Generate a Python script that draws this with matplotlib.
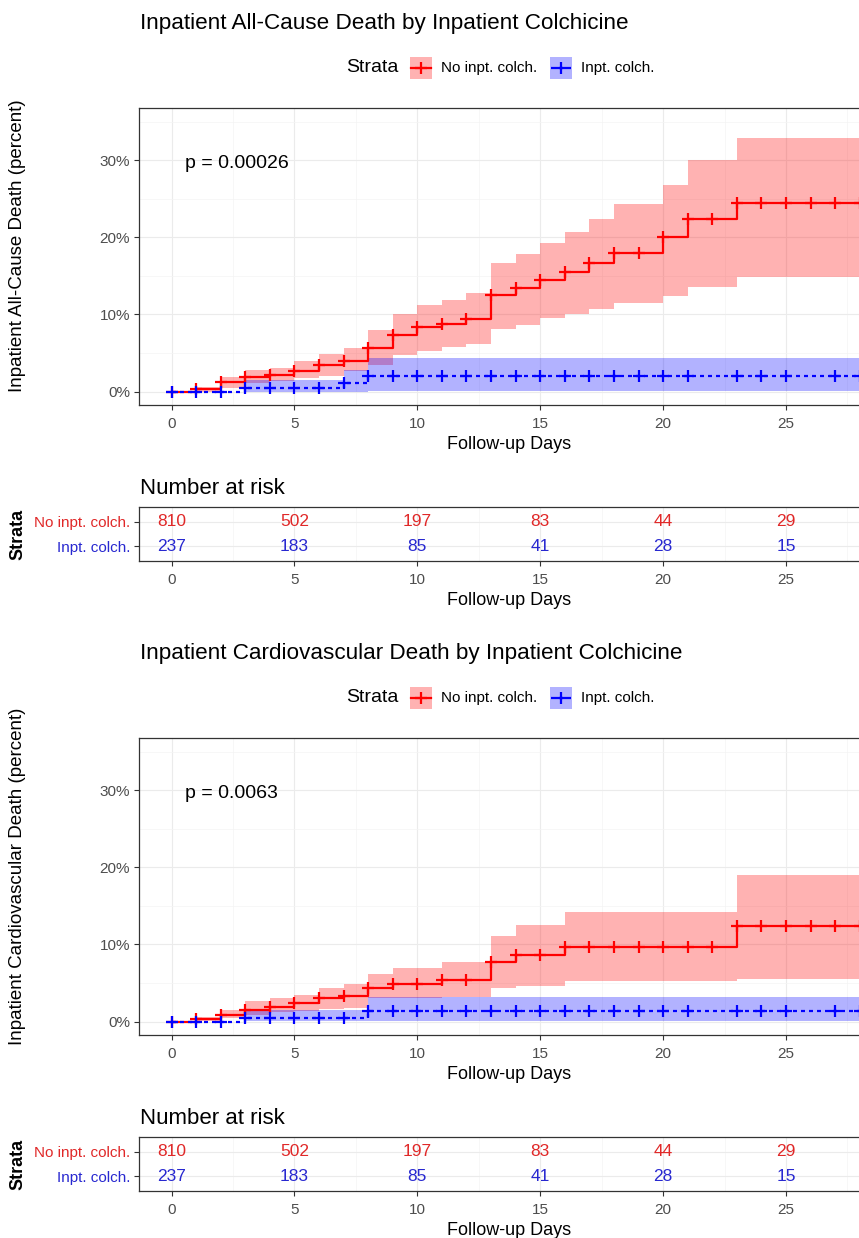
import matplotlib
matplotlib.use('Agg')
import matplotlib.pyplot as plt
from matplotlib.patches import Rectangle
from matplotlib.lines import Line2D
from matplotlib.ticker import FixedLocator

plt.rcParams['font.family'] = ['Liberation Sans', 'DejaVu Sans']

# ---------------- data ----------------
days = [0, 1, 2, 3, 4, 5, 6, 7, 8, 9, 10, 11, 12, 13, 14, 15, 16, 17, 18, 19,
        20, 21, 22, 23, 24, 25, 26, 27, 28]

# all-cause death (percent)
ac_red_est = [0, 0.3, 1.2, 1.9, 2.2, 2.7, 3.4, 3.9, 5.7, 7.3, 8.3, 8.7, 9.4, 12.5, 13.4,
              14.5, 15.5, 16.7, 18.0, 18.0, 20.0, 22.3, 22.3, 24.4, 24.4, 24.4, 24.4, 24.4, 24.4]
ac_red_lo = [0, 0, 0.5, 1.1, 1.3, 1.7, 2.0, 2.7, 3.5, 4.7, 5.3, 5.8, 6.1, 8.1, 8.6,
             9.5, 10.0, 10.7, 11.5, 11.5, 12.4, 13.6, 13.6, 14.9, 14.9, 14.9, 14.9, 14.9, 14.9]
ac_red_hi = [0, 0.6, 1.9, 2.8, 3.1, 3.9, 4.8, 5.7, 8.0, 10.0, 11.2, 11.9, 12.8, 16.7, 17.8,
             19.3, 20.7, 22.3, 24.3, 24.3, 26.8, 30.0, 30.0, 32.9, 32.9, 32.9, 32.9, 32.9, 32.9]
ac_blue_est = [0, 0, 0, 0.4, 0.4, 0.4, 0.4, 1.1, 2.0, 2.0, 2.0, 2.0, 2.0, 2.0, 2.0,
               2.0, 2.0, 2.0, 2.0, 2.0, 2.0, 2.0, 2.0, 2.0, 2.0, 2.0, 2.0, 2.0, 2.0]
ac_blue_lo = [0, 0, 0, 0, 0, 0, 0, 0, 0.1, 0.1, 0.1, 0.1, 0.1, 0.1, 0.1,
              0.1, 0.1, 0.1, 0.1, 0.1, 0.1, 0.1, 0.1, 0.1, 0.1, 0.1, 0.1, 0.1, 0.1]
ac_blue_hi = [0, 0, 0, 1.5, 1.5, 1.5, 1.5, 2.8, 4.3, 4.3, 4.3, 4.3, 4.3, 4.3, 4.3,
              4.3, 4.3, 4.3, 4.3, 4.3, 4.3, 4.3, 4.3, 4.3, 4.3, 4.3, 4.3, 4.3, 4.3]

# cardiovascular death (percent)
cv_red_est = [0, 0.3, 0.8, 1.5, 1.9, 2.4, 3.0, 3.3, 4.4, 4.8, 4.8, 5.4, 5.4, 7.7, 8.6,
              8.6, 9.7, 9.7, 9.7, 9.7, 9.7, 9.7, 9.7, 12.4, 12.4, 12.4, 12.4, 12.4, 12.4]
cv_red_lo = [0, 0, 0.5, 0.85, 1.2, 1.4, 1.6, 1.75, 3.0, 3.05, 3.05, 3.2, 3.2, 4.3, 4.6,
             4.6, 5.2, 5.2, 5.2, 5.2, 5.2, 5.2, 5.2, 5.5, 5.5, 5.5, 5.5, 5.5, 5.5]
cv_red_hi = [0, 0.6, 1.5, 2.6, 3.0, 3.4, 4.4, 4.8, 6.1, 6.9, 6.9, 7.7, 7.7, 11.1, 12.5,
             12.5, 14.2, 14.2, 14.2, 14.2, 14.2, 14.2, 14.2, 19.0, 19.0, 19.0, 19.0, 19.0, 19.0]
cv_blue_est = [0, 0, 0, 0.4, 0.4, 0.4, 0.4, 0.4, 1.3, 1.3, 1.3, 1.3, 1.3, 1.3, 1.3,
               1.3, 1.3, 1.3, 1.3, 1.3, 1.3, 1.3, 1.3, 1.3, 1.3, 1.3, 1.3, 1.3, 1.3]
cv_blue_lo = [0, 0, 0, 0, 0, 0, 0, 0, 0.1, 0.1, 0.1, 0.1, 0.1, 0.1, 0.1,
              0.1, 0.1, 0.1, 0.1, 0.1, 0.1, 0.1, 0.1, 0.1, 0.1, 0.1, 0.1, 0.1, 0.1]
cv_blue_hi = [0, 0, 0, 1.5, 1.5, 1.5, 1.5, 1.5, 3.2, 3.2, 3.2, 3.2, 3.2, 3.2, 3.2,
              3.2, 3.2, 3.2, 3.2, 3.2, 3.2, 3.2, 3.2, 3.2, 3.2, 3.2, 3.2, 3.2, 3.2]

# censoring marks
red_censor_days = days
blue_censor_days = [0, 1, 2, 3, 4, 5, 6, 7, 8, 9, 10, 11, 12, 13, 14, 15, 16, 17, 18, 19,
                    20, 21, 23, 24, 25, 27, 28]

# number at risk
risk_days = [0, 5, 10, 15, 20, 25]
risk_red = [810, 502, 197, 83, 44, 29]
risk_blue = [237, 183, 85, 41, 28, 15]

strata_labels = ['No inpt. colch.', 'Inpt. colch.']
titles = ['Inpatient All-Cause Death by Inpatient Colchicine',
          'Inpatient Cardiovascular Death by Inpatient Colchicine']
ylabels = ['Inpatient All-Cause Death (percent)',
           'Inpatient Cardiovascular Death (percent)']
pvals = ['p = 0.00026', 'p = 0.0063']
yticks = [0, 10, 20, 30]
ytick_labels = ['0%', '10%', '20%', '30%']
xticks = [0, 5, 10, 15, 20, 25]

# ---------------- layout ----------------
W, H = 859, 1238
DPI = 100
fig = plt.figure(figsize=(W / DPI, H / DPI), dpi=DPI)
fig.patch.set_facecolor('white')

RED = '#FF0000'
BLUE = '#0000FF'
RED_TXT = '#E02828'
BLUE_TXT = '#2828D0'
GRID = '#EBEBEB'
GRID_MIN = '#F4F4F4'
BORDER = '#333333'
TICKC = '#4D4D4D'
LW = 1.6
MEW = 1.6
MS = 8.5
DASH = (0, (1.8, 1.8))

X0_PX = 171.5   # pixel of day 0
PPD = 24.58     # pixels per day
LEFT_PX = 139
RIGHT_PX = 880
XMIN = (LEFT_PX - X0_PX) / PPD
XMAX = (RIGHT_PX - X0_PX) / PPD


def axes_px(left, top, right, bottom):
    return fig.add_axes([left / W, 1 - bottom / H, (right - left) / W, (bottom - top) / H])


def style_axes(ax):
    for s in ax.spines.values():
        s.set_color(BORDER)
        s.set_linewidth(0.9)
    ax.tick_params(axis='both', colors=BORDER, labelcolor=TICKC, length=3.5, width=0.8,
                   labelsize=11, pad=3)
    ax.tick_params(axis='x', pad=5)
    ax.set_xlim(XMIN, XMAX)
    ax.xaxis.set_major_locator(FixedLocator(xticks))
    ax.xaxis.set_minor_locator(FixedLocator([-2.5, 2.5, 7.5, 12.5, 17.5, 22.5, 27.5]))
    ax.tick_params(axis='both', which='minor', length=0)
    ax.grid(True, which='major', color=GRID, lw=0.8, zorder=0)
    ax.grid(True, which='minor', color=GRID_MIN, lw=0.5, zorder=0)
    ax.set_axisbelow(True)


def draw_panel(off, k, r_est, r_lo, r_hi, b_est, b_lo, b_hi):
    ax = axes_px(LEFT_PX, 108 + off, RIGHT_PX, 405 + off)
    style_axes(ax)
    ax.set_ylim(-1.75, 36.75)
    ax.yaxis.set_major_locator(FixedLocator(yticks))
    ax.yaxis.set_minor_locator(FixedLocator([5, 15, 25, 35]))
    ax.set_yticklabels(ytick_labels)
    xs = days + [XMAX + 1]
    series = [(r_est, r_lo, r_hi, RED, '-', red_censor_days),
              (b_est, b_lo, b_hi, BLUE, DASH, blue_censor_days)]
    for est, lo, hi, col, ls, cd in series:
        ax.fill_between(xs, lo + [lo[-1]], hi + [hi[-1]], step='post', color=col,
                        alpha=0.3, lw=0, zorder=2)
    for est, lo, hi, col, ls, cd in series:
        ax.step(xs, est + [est[-1]], where='post', color=col, lw=LW, ls=ls, zorder=3)
        ax.plot(cd, [est[d] for d in cd], ls='none', marker='+', ms=MS, mew=MEW,
                color=col, zorder=4)
    ax.text(0.55, 29.6, pvals[k], fontsize=14, ha='left', va='center', color='black')
    ax.set_xlabel('Follow-up Days', fontsize=13, labelpad=4, color='black')
    fig.text(18 / W, 1 - (246 + off) / H, ylabels[k], rotation=90, fontsize=13.5,
             ha='center', va='center', color='black')
    fig.text(140 / W, 1 - (23 + off) / H, titles[k], fontsize=16.2, ha='left',
             va='center', color='black')
    # legend
    ly = 68 + off
    fig.text(346 / W, 1 - ly / H, 'Strata', fontsize=14, ha='left', va='center')
    for (kx, tx, col, ls, lab) in [(410, 441, RED, '-', strata_labels[0]),
                                   (550, 581, BLUE, DASH, strata_labels[1])]:
        fig.add_artist(Rectangle((kx / W, 1 - (ly + 11) / H), 22 / W, 22 / H,
                                 transform=fig.transFigure, facecolor=col, alpha=0.3,
                                 edgecolor='none'))
        fig.add_artist(Line2D([(kx + 1) / W, (kx + 21) / W], [1 - ly / H, 1 - ly / H],
                              transform=fig.transFigure, color=col, lw=LW, ls=ls))
        fig.add_artist(Line2D([(kx + 11) / W], [1 - ly / H], transform=fig.transFigure,
                              color=col, marker='+', ms=MS, mew=MEW, ls='none'))
        fig.text(tx / W, 1 - ly / H, lab, fontsize=11, ha='left', va='center')

    # risk table
    rt = 507 + off
    rb = 561 + off
    ax_r = axes_px(LEFT_PX, rt, RIGHT_PX, rb)
    style_axes(ax_r)
    ax_r.set_ylim(0.4, 2.6)
    ax_r.yaxis.set_major_locator(FixedLocator([1, 2]))
    ax_r.set_yticklabels([strata_labels[1], strata_labels[0]], fontsize=11)
    for lbl, c in zip(ax_r.get_yticklabels(), [BLUE_TXT, RED_TXT]):
        lbl.set_color(c)
    for d, nr, nb in zip(risk_days, risk_red, risk_blue):
        ax_r.text(d, 2, str(nr), ha='center', va='center', fontsize=12.5, color=RED_TXT)
        ax_r.text(d, 1, str(nb), ha='center', va='center', fontsize=12.5, color=BLUE_TXT)
    ax_r.set_xlabel('Follow-up Days', fontsize=13, labelpad=4, color='black')
    fig.text(140 / W, 1 - (488 + off) / H, 'Number at risk', fontsize=16, ha='left',
             va='center')
    fig.text(18 / W, 1 - ((rt + rb) / 2) / H, 'Strata', rotation=90, fontsize=13,
             fontweight='bold', ha='center', va='center')


draw_panel(0, 0, ac_red_est, ac_red_lo, ac_red_hi, ac_blue_est, ac_blue_lo, ac_blue_hi)
draw_panel(630, 1, cv_red_est, cv_red_lo, cv_red_hi, cv_blue_est, cv_blue_lo, cv_blue_hi)

fig.savefig('out.png', dpi=DPI, facecolor='white')
